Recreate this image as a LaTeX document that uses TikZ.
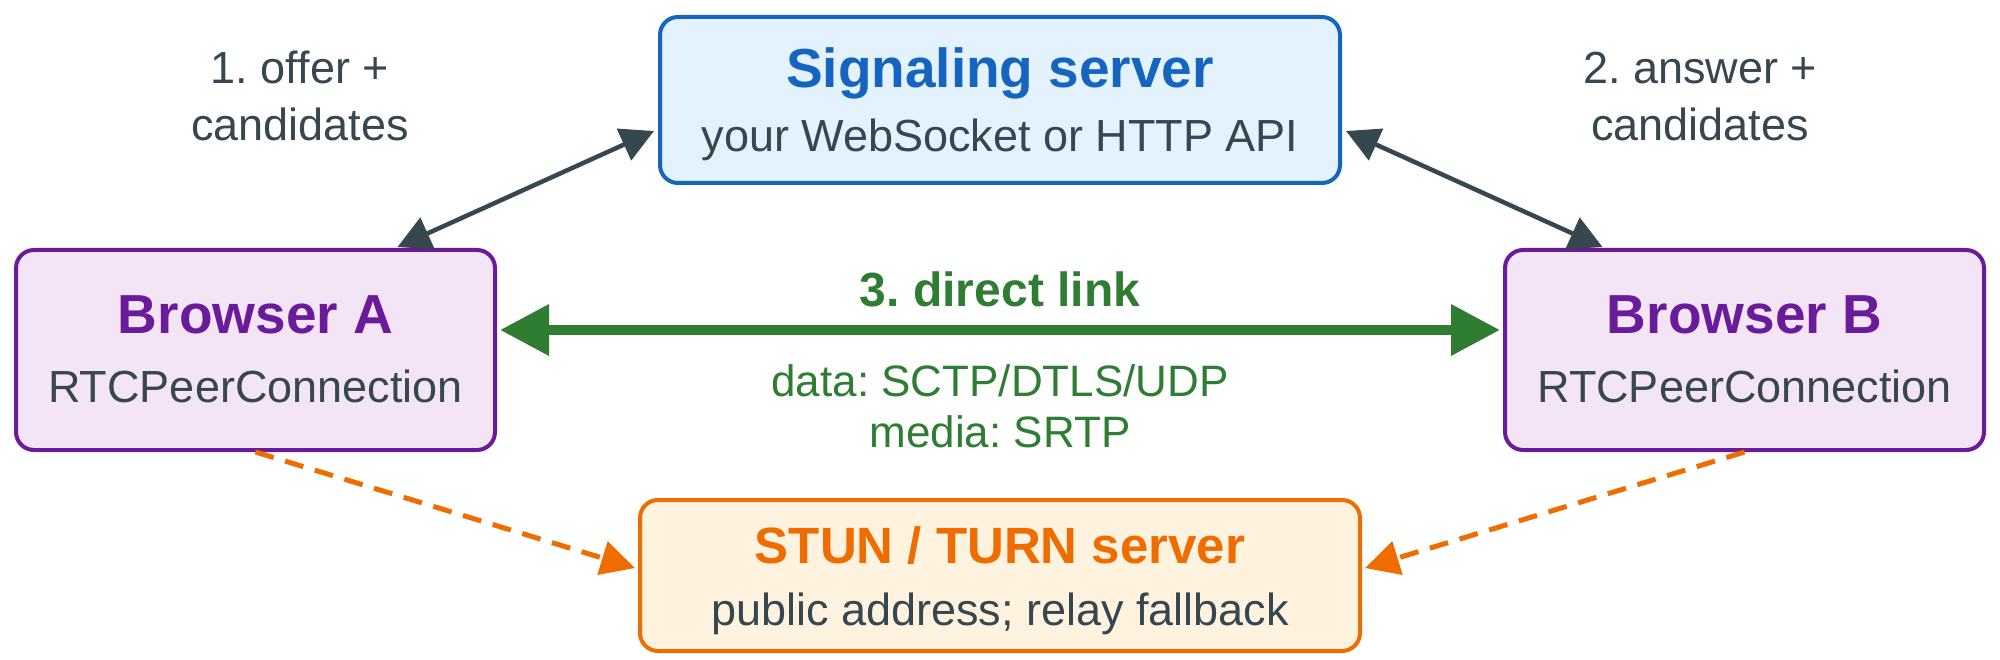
\documentclass[tikz,border=0pt]{standalone}
\usepackage{fontspec}
\setmainfont{Liberation Sans}
\usetikzlibrary{arrows.meta}
\definecolor{sigblue}{HTML}{1565C0}
\definecolor{sigfill}{HTML}{E3F2FD}
\definecolor{peerpurple}{HTML}{6A1B9A}
\definecolor{peerfill}{HTML}{F3E5F5}
\definecolor{relayorange}{HTML}{EF6C00}
\definecolor{relayfill}{HTML}{FFF3E0}
\definecolor{linkgreen}{HTML}{2E7D32}
\definecolor{slate}{HTML}{37474F}
\newcommand{\titlesize}{\fontsize{55}{66}\selectfont\bfseries}
\newcommand{\subsize}{\fontsize{45}{57}\selectfont}
\frenchspacing

\begin{document}
\begin{tikzpicture}[x=1pt,y=-1pt,inner sep=0pt,
	box/.style={rounded corners=18pt,line width=4pt},
	ttl/.style={anchor=base,font=\titlesize},
	sub/.style={anchor=base,font=\subsize,text=slate},
	sigline/.style={line width=4.5pt,slate,{Triangle[length=33pt,width=34pt]}-{Triangle[length=33pt,width=34pt]}},
	link/.style={line width=10pt,linkgreen,{Triangle[length=49pt,width=49pt]}-{Triangle[length=49pt,width=49pt]}},
	relay/.style={line width=5pt,relayorange,dash pattern=on 19pt off 12pt,-{Triangle[length=34pt,width=34pt]}}]
	\useasboundingbox (0,0) rectangle (2000,660);
	
	% boxes
	\node[box,draw=sigblue,fill=sigfill,minimum width=680pt,minimum height=166pt] (sig) at (1000,100) {};
	\node[box,draw=peerpurple,fill=peerfill,minimum width=479pt,minimum height=200pt] (browA) at (255.5,350) {};
	\node[box,draw=peerpurple,fill=peerfill,minimum width=479pt,minimum height=200pt] (browB) at (1744.5,350) {};
	\node[box,draw=relayorange,fill=relayfill,minimum width=720pt,minimum height=151pt] (stun) at (1000,575.5) {};
	
	\node[ttl,text=sigblue] (sigT) at ([yshift=12pt]sig.center) {Signaling server};
	\node[sub] (sigS) at ([yshift=-52pt]sig.center) {your WebSocket or HTTP API};
	\node[ttl,text=peerpurple] (browAT) at ([yshift=16pt]browA.center) {Browser A};
	\node[sub] (browAS) at ([yshift=-52pt]browA.center) {RTCPeerConnection};
	\node[ttl,text=peerpurple] (browBT) at ([yshift=16pt]browB.center) {Browser B};
	\node[sub] (browBS) at ([yshift=-52pt]browB.center) {RTCPeerConnection};
	\node[ttl,text=relayorange,font=\fontsize{51}{60}\selectfont\bfseries] (stunT) at ([yshift=12.5pt]stun.center) {STUN / TURN server};
	\node[sub] (stunS) at ([yshift=-50pt]stun.center) {public address; relay fallback};
	
	% labels
	\node[sub,align=center] (offer) at (300,141) {1. offer +\\candidates};
	\node[sub,align=center] (answer) at (1700,141) {2. answer +\\candidates};
	\node[ttl,text=linkgreen,font=\fontsize{48}{58}\selectfont\bfseries] (direct) at (1000,307) {3. direct link};
	\node[sub,align=center,text=linkgreen,font=\fontsize{44}{51}\selectfont] (proto) at (1000,447) {data: SCTP/DTLS/UDP\\media: SRTP};
	
	% connectors
	\draw[sigline] ([xshift=142pt,yshift=1pt]browA.north) -- ([xshift=-4pt,yshift=-31pt]sig.west);
	\draw[sigline] ([xshift=4pt,yshift=-31pt]sig.east) -- ([xshift=-142pt,yshift=1pt]browB.north);
	\draw[link] ([xshift=3pt,yshift=20pt]browA.east) -- ([xshift=-3pt,yshift=20pt]browB.west);
	\draw[relay] (browA.south) -- ([xshift=-3pt,yshift=7.5pt]stun.west);
	\draw[relay] (browB.south) -- ([xshift=3pt,yshift=7.5pt]stun.east);
\end{tikzpicture}
\end{document}
